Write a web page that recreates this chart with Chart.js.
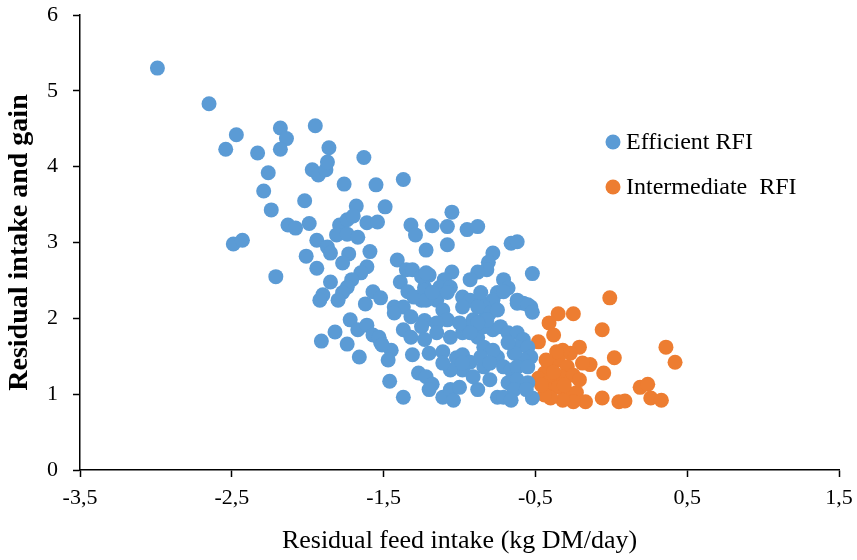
<!DOCTYPE html>
<html>
<head>
<meta charset="utf-8">
<script src="https://cdn.jsdelivr.net/npm/chart.js@4/dist/chart.umd.min.js"></script>
<style>
  html, body { margin: 0; padding: 0; background: #ffffff; }
  #wrap { width: 857px; height: 560px; position: relative; }
</style>
</head>
<body>
<div id="wrap"><canvas id="c" width="857" height="560"></canvas></div>
<script>
// ---- Data ----
const seriesNames = ["Efficient RFI", "Intermediate  RFI"];

const efficientX = [
  -2.99,-2.65,-2.47,-2.54,-2.33,-2.18,-2.14,-2.18,-1.95,-1.86,-1.63,-2.26,-1.97,-1.93,-1.88,-1.87,
  -2.29,-1.76,-1.55,-1.37,-2.02,-2.24,-1.68,-1.49,-2.13,-2.08,-1.99,-1.79,-1.74,-1.70,-1.81,-1.74,
  -1.67,-1.61,-1.54,-2.49,-2.43,-1.94,-1.87,-1.85,-2.01,-1.73,-1.77,-1.59,-1.94,-2.21,-1.61,-1.65,
  -1.71,-1.74,-1.77,-1.80,-1.85,-1.90,-1.92,-1.57,-1.52,-1.62,-1.41,-1.39,
  -1.05,-1.32,-1.29,-1.18,-1.08,-0.95,-0.88,-1.08,-1.22,-0.66,-0.62,-0.78,-0.81,-0.82,-0.88,-0.93,
  -1.05,-1.10,-1.13,-1.06,-1.20,-1.23,-0.52,-0.71,-0.68,-0.75,-0.78,-0.98,-0.93,-0.86,-0.62,-0.58,
  -0.53,-1.25,-1.15,-1.08,-1.35,-1.31,-1.25,-1.22,-1.34,-1.30,-1.23,-1.22,-1.43,-1.37,-1.18,
  -1.43,-1.32,-1.23,-1.25,-1.11,-1.08,-1.15,-0.84,-0.80,-1.72,-1.67,-1.61,-1.82,-1.91,-1.74,-1.57,
  -1.52,-1.45,-1.37,-1.32,-1.23,-1.15,-1.06,-0.98,-0.88,-0.84,-0.78,-1.66,-1.47,-1.53,-1.51,-1.31,
  -1.20,-1.11,-1.02,-0.98,-0.93,-0.95,-0.84,-1.27,-1.22,-1.18,-1.20,-1.11,-1.06,-1.04,-1.46,-1.37,
  -0.88,-0.75,-0.80,-0.84,-0.75,-0.98,-0.91,-1.06,-1.11,-0.91,-0.98,-0.88,
  -0.86,-0.71,-0.62,-0.55,-0.52,-0.75,-0.82,-0.88,-0.73,-1.00,-0.93,-0.68,-0.62,-0.58,-0.62,-0.55,
  -0.53,-0.58,-0.64,-0.68,-0.84,-0.78,-0.86,-0.98,-0.80,-0.71,-0.66,-0.62,-0.55,-0.68,-0.62,-0.55,
  -0.64,-0.71,-0.66,-1.00,-0.52,-0.56
];
const efficientY = [
  5.30,4.83,4.42,4.23,4.18,4.51,4.37,4.23,4.54,4.25,4.12,3.92,3.96,3.89,3.96,4.06,
  3.68,3.77,3.76,3.83,3.55,3.43,3.48,3.47,3.23,3.19,3.25,3.23,3.30,3.35,3.10,3.11,
  3.07,3.26,3.27,2.98,3.03,3.03,2.94,2.86,2.82,2.85,2.73,2.88,2.66,2.55,2.68,2.60,
  2.51,2.41,2.34,2.24,2.48,2.31,2.24,2.35,2.27,2.19,2.77,2.48,
  3.40,3.23,3.10,3.22,3.21,3.17,3.21,2.97,2.90,2.99,3.01,2.86,2.74,2.64,2.61,2.51,
  2.61,2.51,2.41,2.41,2.57,2.41,2.59,2.51,2.40,2.34,2.24,2.28,2.24,2.20,2.24,2.20,
  2.15,2.24,2.24,2.34,2.64,2.64,2.55,2.60,2.35,2.28,2.37,2.24,2.15,2.15,2.34,
  2.07,2.02,1.97,1.89,2.11,1.98,1.94,2.15,2.07,1.98,1.85,1.91,1.82,1.70,1.66,1.78,
  1.68,1.58,1.85,1.75,1.72,1.81,1.75,1.81,1.75,1.98,1.85,1.49,1.45,1.75,1.65,1.52,
  1.54,1.56,1.48,1.52,1.42,1.85,1.89,1.28,1.23,1.13,1.06,0.96,1.06,0.92,1.17,0.96,
  1.06,0.96,1.19,1.36,1.49,1.32,1.23,1.32,1.41,1.98,2.15,2.15,
  2.34,2.35,2.20,2.18,2.08,2.11,1.98,1.94,1.89,1.94,1.81,1.81,1.81,1.72,1.62,1.62,
  1.49,1.45,1.54,1.68,1.62,1.58,1.49,1.41,1.41,1.36,1.32,1.36,1.36,1.15,1.19,1.15,
  1.06,0.96,0.92,1.09,0.95,1.06
];

const intermediateX = [
  -0.01,-0.35,-0.25,-0.41,-0.38,-0.06,-0.48,-0.21,-0.27,-0.32, 0.36, 0.42, 0.02,-0.14,-0.19,-0.40,
  -0.35,-0.29,-0.44,-0.48,-0.40,-0.33,-0.25,-0.05,-0.42,-0.35,-0.29,-0.23,-0.17,-0.25,-0.32,-0.40,
  -0.44,-0.06, 0.05, 0.09, 0.19, 0.24, 0.26, 0.33,-0.36,-0.46,-0.21,-0.43,-0.31,-0.38
];
const intermediateY = [
   2.27,2.06,2.06,1.94,1.78,1.85,1.69,1.62,1.54,1.58,1.62,1.42,1.48,1.39,1.41,1.39,
   1.45,1.36,1.28,1.21,1.19,1.23,1.25,1.28,1.06,1.09,1.02,1.02,0.90,0.90,0.92,0.95,
   0.99,0.95,0.90,0.91,1.09,1.13,0.95,0.92,1.56,1.12,1.19,1.45,1.12,1.29
];

const xTickValues = [-3.5, -2.5, -1.5, -0.5, 0.5, 1.5];
const yTickValues = [0, 1, 2, 3, 4, 5, 6];
const xAxisTitle = "Residual feed intake (kg DM/day)";
const yAxisTitle = "Residual intake and gain";

// ---- Build chart ----
const toPoints = (xs, ys) => xs.map((x, i) => ({ x: x, y: ys[i] }));
const BLUE = "#5B9BD5";
const ORANGE = "#ED7D31";
const FONT = "'Liberation Serif', 'Times New Roman', serif";

const legendPlugin = {
  id: "insideLegend",
  afterDraw(chart) {
    const ctx = chart.ctx;
    const items = chart.data.datasets;
    const x0 = 613, y0 = 142, gap = 45;
    ctx.save();
    items.forEach((ds, i) => {
      const cy = y0 + i * gap;
      ctx.beginPath();
      ctx.fillStyle = ds.backgroundColor;
      ctx.arc(x0, cy, 7.5, 0, Math.PI * 2);
      ctx.fill();
      ctx.fillStyle = "#000";
      ctx.font = "24px " + FONT;
      ctx.textBaseline = "middle";
      ctx.textAlign = "left";
      ctx.fillText(ds.label, x0 + 13, cy + 1);
    });
    ctx.restore();
  }
};

new Chart(document.getElementById("c"), {
  type: "scatter",
  data: {
    datasets: [
      { label: seriesNames[0], data: toPoints(efficientX, efficientY),
        backgroundColor: BLUE, borderColor: BLUE, pointRadius: 7.5, pointBorderWidth: 0, pointHoverRadius: 7.5 },
      { label: seriesNames[1], data: toPoints(intermediateX, intermediateY),
        backgroundColor: ORANGE, borderColor: ORANGE, pointRadius: 7.5, pointBorderWidth: 0, pointHoverRadius: 7.5 }
    ]
  },
  options: {
    responsive: false,
    animation: false,
    events: [],
    layout: { padding: { top: 15, right: 18, left: 0, bottom: 0 } },
    plugins: {
      legend: { display: false },
      tooltip: { enabled: false }
    },
    scales: {
      x: {
        type: "linear",
        min: -3.5, max: 1.5,
        afterBuildTicks: (scale) => { scale.ticks = xTickValues.map(v => ({ value: v })); },
        afterFit: (scale) => { scale.height = 90; scale.paddingLeft = 0; scale.paddingRight = 0; },
        ticks: {
          color: "#000",
          font: { family: FONT, size: 22 },
          padding: 8,
          maxRotation: 0,
          callback: (v) => Number(v).toFixed(1).replace(".", ",")
        },
        grid: { display: true, drawOnChartArea: false, drawTicks: true, tickLength: 7, tickColor: "#000", tickWidth: 1.5 },
        border: { display: true, color: "#000", width: 1.5 },
        title: { display: true, text: xAxisTitle, color: "#000", font: { family: FONT, size: 26 }, padding: { top: 0, bottom: 3 } }
      },
      y: {
        type: "linear",
        min: 0, max: 6,
        afterBuildTicks: (scale) => { scale.ticks = yTickValues.map(v => ({ value: v })); },
        afterFit: (scale) => { scale.width = 80; scale.paddingTop = 0; scale.paddingBottom = 0; },
        ticks: {
          color: "#000",
          font: { family: FONT, size: 22 },
          padding: 15,
          callback: (v) => String(v)
        },
        grid: { display: true, drawOnChartArea: false, drawTicks: true, tickLength: 7, tickColor: "#000", tickWidth: 1.5 },
        border: { display: true, color: "#000", width: 1.5 },
        title: { display: true, text: yAxisTitle, color: "#000", font: { family: FONT, size: 28, weight: "bold" }, padding: { top: 3, bottom: 0 } }
      }
    }
  },
  plugins: [legendPlugin]
});
</script>
</body>
</html>
